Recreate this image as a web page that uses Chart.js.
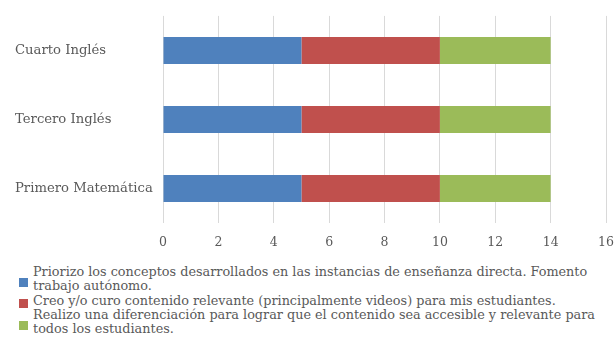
<!DOCTYPE html>
<html>
<head>
<meta charset="utf-8">
<script src="https://cdn.jsdelivr.net/npm/chart.js@4/dist/chart.umd.min.js"></script>
<style>
  html, body { margin: 0; padding: 0; background: #ffffff; }
  body { width: 615px; height: 363px; position: relative; overflow: hidden; }
  #chart { position: absolute; left: 0; top: 0; }
  #legend { position: absolute; left: 19px; top: 265px; width: 596px;
    font-family: "DejaVu Serif", serif; font-size: 12.8px; line-height: 14px; color: #595959; }
  .item { display: flex; align-items: center; }
  .box { width: 9px; height: 9px; flex: 0 0 9px; margin-right: 5px; margin-top: 7px; }
  .item.single .box { margin-top: 6px; }
  .txt { white-space: nowrap; }
</style>
</head>
<body>
<canvas id="chart" width="615" height="258"></canvas>
<div id="legend"></div>
<script>
const categories = ["Cuarto Inglés", "Tercero Inglés", "Primero Matemática"];
const seriesNames = [
  ["Priorizo los conceptos desarrollados en las instancias de enseñanza directa. Fomento", "trabajo autónomo."],
  ["Creo y/o curo contenido relevante (principalmente videos) para mis estudiantes."],
  ["Realizo una diferenciación para lograr que el contenido sea accesible y relevante para", "todos los estudiantes."]
];
const seriesPriorizo = [5, 5, 5];
const seriesCreo = [5, 5, 5];
const seriesRealizo = [4, 4, 4];
const xTicks = [0, 2, 4, 6, 8, 10, 12, 14, 16];
const colors = ["#4F81BD", "#C0504D", "#9BBB59"];

const values = [seriesPriorizo, seriesCreo, seriesRealizo];
const FONT = "'DejaVu Serif', serif";
const datasets = values.map((v, i) => ({
  label: seriesNames[i].join(" "),
  data: v,
  backgroundColor: colors[i],
  borderWidth: 0,
  barPercentage: 0.39,
  categoryPercentage: 1.0
}));

const chart = new Chart(document.getElementById('chart'), {
  type: 'bar',
  data: { labels: categories, datasets },
  options: {
    indexAxis: 'y',
    responsive: false,
    animation: false,
    layout: { padding: { top: 15, right: 9, left: 15, bottom: 0 } },
    plugins: { legend: { display: false }, tooltip: { enabled: false } },
    scales: {
      x: {
        stacked: true,
        min: 0, max: 16,
        afterBuildTicks: (s) => { s.ticks = xTicks.map(v => ({ value: v })); },
        afterFit: (s) => { s.height = 35; s.paddingLeft = 0; s.paddingRight = 0; },
        grid: { color: '#D9D9D9', drawTicks: false, lineWidth: 1 },
        border: { display: false },
        ticks: { padding: 12, color: '#595959', font: { family: FONT, size: 12.5 } }
      },
      y: {
        stacked: true,
        afterFit: (s) => { s.width = 148; },
        grid: { display: false, drawTicks: false },
        border: { display: false },
        ticks: { padding: 8, crossAlign: 'far', color: '#595959', font: { family: FONT, size: 13.2 } }
      }
    }
  }
});

const legend = document.getElementById('legend');
seriesNames.forEach((lines, i) => {
  const item = document.createElement('div');
  item.className = 'item' + (lines.length === 1 ? ' single' : '');
  const box = document.createElement('div');
  box.className = 'box';
  box.style.background = colors[i];
  const txt = document.createElement('div');
  txt.className = 'txt';
  lines.forEach((l, j) => {
    if (j > 0) txt.appendChild(document.createElement('br'));
    txt.appendChild(document.createTextNode(l));
  });
  item.appendChild(box);
  item.appendChild(txt);
  legend.appendChild(item);
});
</script>
</body>
</html>
